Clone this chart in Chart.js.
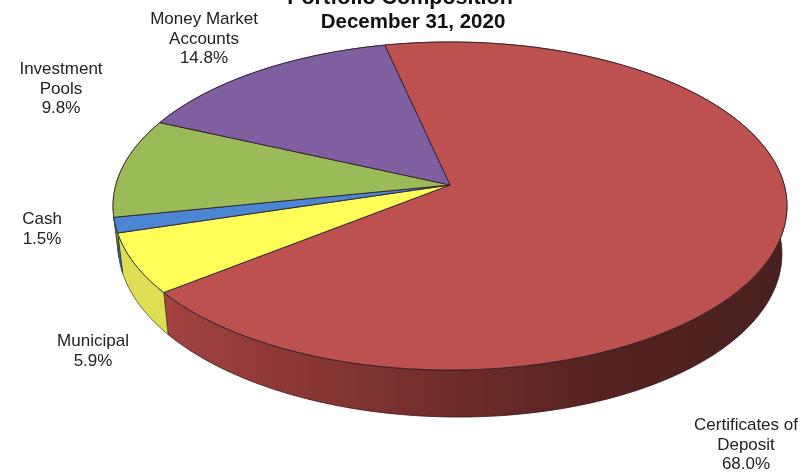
<!DOCTYPE html>
<html lang="en">
<head>
  <meta charset="UTF-8">
  <title>Portfolio Composition</title>
  <script src="https://cdn.jsdelivr.net/npm/chart.js"></script>
  <style>
    html, body { margin: 0; padding: 0; background: #fff; overflow: hidden; }
    canvas { display: block; }
  </style>
</head>
<body>
  <canvas id="portfolioChart" width="807" height="473"></canvas>

  <script>
    // chart data, clockwise from the red slice
    const categories = ['Certificates of Deposit', 'Municipal', 'Cash', 'Investment Pools', 'Money Market Accounts'];
    const shares = [68.0, 5.9, 1.5, 9.8, 14.8];
    const titleLines = ['Portfolio Composition', 'December 31, 2020'];
    const labelLines = [
      ['Certificates of', 'Deposit', '68.0%'],
      ['Municipal', '5.9%'],
      ['Cash', '1.5%'],
      ['Investment', 'Pools', '9.8%'],
      ['Money Market', 'Accounts', '14.8%']
    ];

    // styles and placement
    const topColors = ['#BC5150', '#FFFF5A', '#4C85D2', '#9BBB59', '#7F5FA0'];
    const wallColors = [null, '#DEDE55', '#3A6CAE', '#76903F', '#5B4374'];
    const wallEdges = ['#3A1414', '#4A4A20', '#1E3A60', '#3F4F20', '#35264A'];
    const labelSpots = [[746, 430], [93, 346], [42, 224], [61, 74], [204, 24]];
    const lineGap = 19.5;

    // the pie is a tilted disc seen in perspective: apex is above the middle of the ellipse
    const apex = { x: 450, y: 185 };
    const persp = { a: 334.2, b: 161.3, k: -0.128 };

    function rimPoint(angle) {
      const u = Math.cos(angle), v = Math.sin(angle);
      const w = 1 + persp.k * v;
      return { x: persp.a * u / w, y: persp.b * v / w };
    }
    function topPoint(angle) {
      const p = rimPoint(angle);
      return { x: apex.x + p.x, y: apex.y + p.y };
    }
    function lowPoint(angle) {
      const p = rimPoint(angle);
      return { x: apex.x + p.x * 0.985, y: apex.y + p.y * 1.02 + 43.3 + p.x * 0.0125 };
    }
    function traceRim(ctx, fn, from, to) {
      const steps = Math.max(2, Math.ceil(Math.abs(to - from) * 60));
      for (let i = 0; i <= steps; i++) {
        const p = fn(from + (to - from) * i / steps);
        ctx.lineTo(p.x, p.y);
      }
    }

    const perspectivePie = {
      id: 'perspectivePie',
      beforeDatasetDraw(chart) {
        const ctx = chart.ctx;
        const arcs = chart.getDatasetMeta(0).data;
        ctx.save();
        ctx.lineJoin = 'round';

        // side wall first, the top surface covers whatever is behind it
        arcs.forEach((arc, i) => {
          ctx.beginPath();
          traceRim(ctx, topPoint, arc.startAngle, arc.endAngle);
          traceRim(ctx, lowPoint, arc.endAngle, arc.startAngle);
          ctx.closePath();
          if (wallColors[i]) {
            ctx.fillStyle = wallColors[i];
          } else {
            const g = ctx.createLinearGradient(165, 0, 785, 0);
            g.addColorStop(0, '#A24241');
            g.addColorStop(0.22, '#8A3735');
            g.addColorStop(0.46, '#6F2D2C');
            g.addColorStop(0.7, '#552222');
            g.addColorStop(1, '#482020');
            ctx.fillStyle = g;
          }
          ctx.fill();
          ctx.strokeStyle = wallEdges[i];
          ctx.lineWidth = 0.8;
          ctx.stroke();
        });

        arcs.forEach((arc, i) => {
          ctx.beginPath();
          ctx.moveTo(apex.x, apex.y);
          traceRim(ctx, topPoint, arc.startAngle, arc.endAngle);
          ctx.closePath();
          ctx.fillStyle = topColors[i];
          ctx.fill();
          ctx.strokeStyle = 'rgba(46, 28, 44, 0.85)';
          ctx.lineWidth = 1;
          ctx.stroke();
        });
        ctx.restore();
        return false;
      },
      afterDatasetsDraw(chart) {
        const ctx = chart.ctx;
        ctx.save();
        ctx.textAlign = 'center';
        ctx.textBaseline = 'alphabetic';

        ctx.fillStyle = '#111';
        ctx.font = 'bold 21.5px "Liberation Sans", Arial, sans-serif';
        ctx.fillText(titleLines[0], 400, 4);
        ctx.font = 'bold 20.5px "Liberation Sans", Arial, sans-serif';
        ctx.fillText(titleLines[1], 413, 28);

        ctx.fillStyle = '#222';
        ctx.font = '17px "Liberation Sans", Arial, sans-serif';
        labelLines.forEach((lines, i) => {
          lines.forEach((line, n) => {
            ctx.fillText(line, labelSpots[i][0], labelSpots[i][1] + n * lineGap);
          });
        });
        ctx.restore();
      }
    };

    new Chart(document.getElementById('portfolioChart').getContext('2d'), {
      type: 'pie',
      data: {
        labels: categories,
        datasets: [{ data: shares, backgroundColor: topColors }]
      },
      options: {
        responsive: false,
        animation: false,
        rotation: -12.7,
        plugins: { legend: { display: false }, tooltip: { enabled: false }, title: { display: false } }
      },
      plugins: [perspectivePie]
    });
  </script>
</body>
</html>
